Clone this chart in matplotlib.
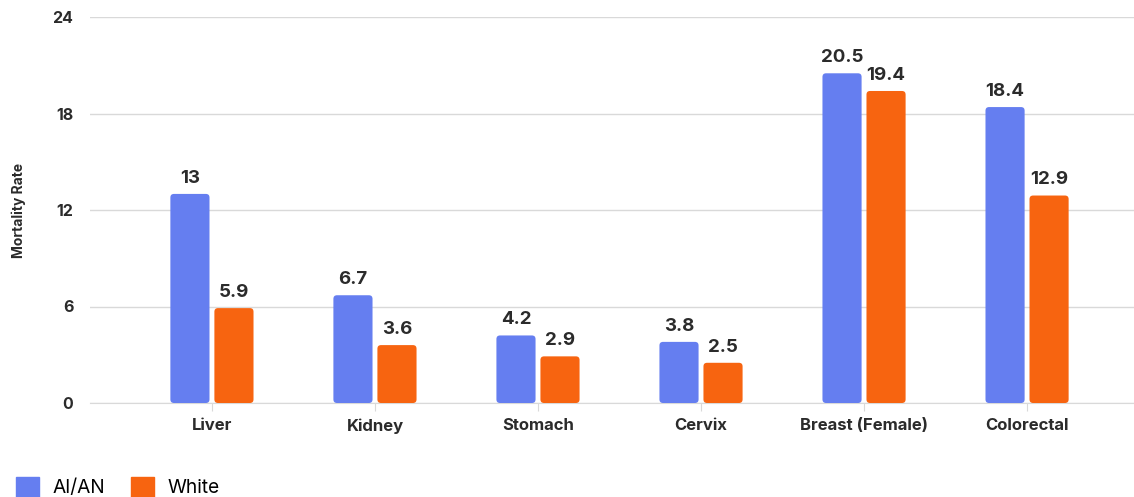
import matplotlib
matplotlib.use("Agg")
import matplotlib.pyplot as plt
from matplotlib.patches import FancyBboxPatch, Patch
import numpy as np

categories = ["Liver", "Kidney", "Stomach", "Cervix", "Breast (Female)", "Colorectal"]
aian = [13, 6.7, 4.2, 3.8, 20.5, 18.4]
white = [5.9, 3.6, 2.9, 2.5, 19.4, 12.9]
aian_labels = ["13", "6.7", "4.2", "3.8", "20.5", "18.4"]
white_labels = ["5.9", "3.6", "2.9", "2.5", "19.4", "12.9"]
yticks = [0, 6, 12, 18, 24]

BLUE = "#657EF0"
ORANGE = "#F76410"
TXT = "#2b2b2b"
plt.rcParams['font.family'] = ['Inter', 'DejaVu Sans']

fig = plt.figure(figsize=(11.34, 4.97), dpi=100)
ax = fig.add_axes([90/1134, 1-403/497, 1-90/1134, (403-17)/497])

x = np.arange(len(categories))
w = 0.24
off = 0.135
ax.set_xlim(-0.748, 5.656)
ax.set_ylim(0, 24)

xpx = 163.0
ypx = 386/24
aspect = xpx/ypx

for vals, labs, sign, col in [(aian, aian_labels, -1, BLUE), (white, white_labels, 1, ORANGE)]:
    bars = ax.bar(x + sign*off, vals, width=w, color=col, alpha=0)
    for b, v, lab in zip(bars, vals, labs):
        p = FancyBboxPatch((b.get_x(), 0), b.get_width(), v,
                           boxstyle="round,pad=0,rounding_size=0.022",
                           mutation_aspect=aspect, fc=col, ec="none", zorder=3)
        ax.add_patch(p)
        ax.text(b.get_x()+b.get_width()/2, v + 0.45, lab, ha="center", va="bottom",
                fontsize=13.5, fontweight="bold", color=TXT, zorder=4)

ax.set_yticks(yticks)
ax.set_yticklabels([str(t) for t in yticks], fontsize=11.5, fontweight="bold", color=TXT)
ax.yaxis.grid(True, color="#d9d9d9", linewidth=1)
ax.set_axisbelow(True)
ax.tick_params(axis="y", length=0, pad=12)
ax.set_xticks(x)
ax.set_xticklabels(categories, fontsize=12, fontweight="bold", color=TXT)
ax.tick_params(axis="x", length=6, color="#d9d9d9", pad=5)
for s in ["top", "right", "left"]:
    ax.spines[s].set_visible(False)
ax.spines["bottom"].set_color("#d9d9d9")
ax.set_ylabel("Mortality Rate", fontsize=10, fontweight="bold", color=TXT)
ax.yaxis.set_label_coords(-0.0615, 0.5)

handles = [Patch(color=BLUE, label="AI/AN"), Patch(color=ORANGE, label="White")]
fig.legend(handles=handles, loc="center left", bbox_to_anchor=(16/1134, 1-487/497), ncol=2,
           frameon=False, fontsize=13.8, handlelength=1.2, handleheight=1.2,
           columnspacing=1.4, handletextpad=0.68, borderpad=0, borderaxespad=0)

fig.savefig("out.png", dpi=100)
